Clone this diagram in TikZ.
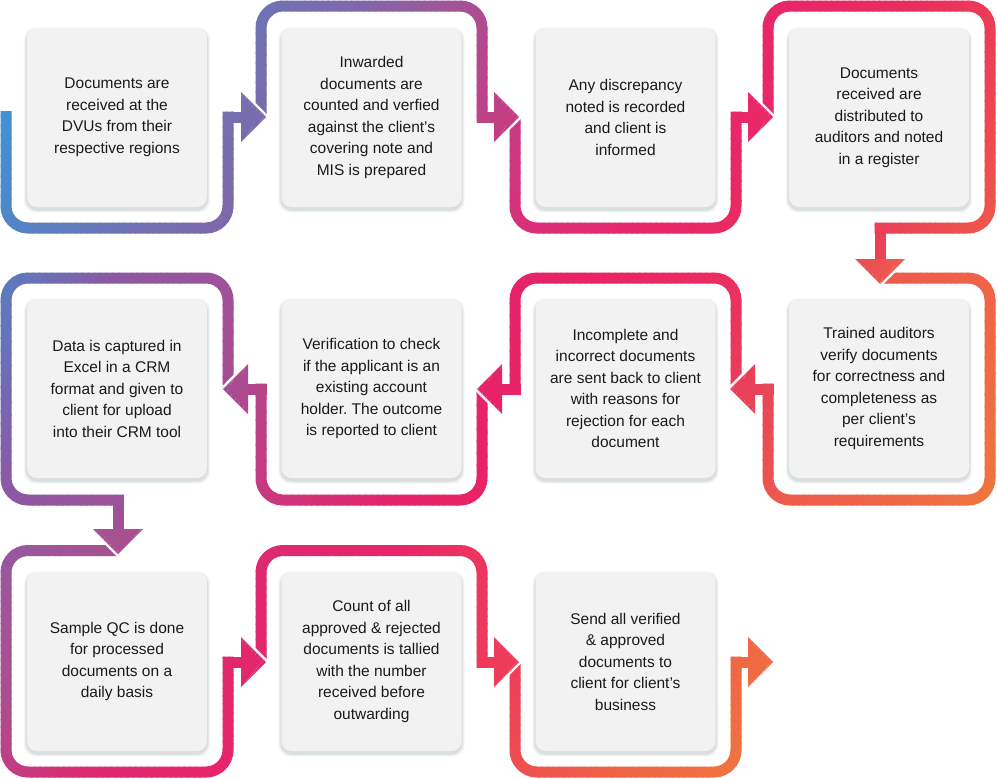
\documentclass[tikz,border=0pt]{standalone}
\usepackage{fontspec}
\setmainfont{Liberation Sans}
\usetikzlibrary{backgrounds,calc}
\frenchspacing

\definecolor{boxgray}{HTML}{F2F2F2}
\definecolor{txt}{HTML}{1A1A1A}
\definecolor{shadowc}{HTML}{4A6262}
% row 1 gradient stops
\definecolor{ra0}{HTML}{3A98D8}
\definecolor{ra1}{HTML}{3F93D5}
\definecolor{ra2}{HTML}{6E72B4}
\definecolor{ra3}{HTML}{8068AA}
\definecolor{ra4}{HTML}{B24A8E}
\definecolor{ra5}{HTML}{D8307A}
\definecolor{ra6}{HTML}{E8266A}
\definecolor{ra7}{HTML}{E92C60}
\definecolor{ra8}{HTML}{EB3C58}
\definecolor{ra9}{HTML}{EF5E46}
% row 2 gradient stops
\definecolor{rb0}{HTML}{537FC5}
\definecolor{rb1}{HTML}{5A7CC0}
\definecolor{rb2}{HTML}{8C58A2}
\definecolor{rb3}{HTML}{9E529A}
\definecolor{rb4}{HTML}{A84C90}
\definecolor{rb5}{HTML}{B84488}
\definecolor{rb6}{HTML}{C8387E}
\definecolor{rb7}{HTML}{E6226A}
\definecolor{rb8}{HTML}{E82465}
\definecolor{rb9}{HTML}{EA3060}
\definecolor{rbk}{HTML}{E84858}
\definecolor{rbl}{HTML}{EE5C4C}
\definecolor{rbm}{HTML}{EE6548}
\definecolor{rbn}{HTML}{F07C3A}
% row 3 gradient stops
\definecolor{rc0}{HTML}{9459A4}
\definecolor{rc1}{HTML}{9858A0}
\definecolor{rc2}{HTML}{A8508F}
\definecolor{rc3}{HTML}{C03E85}
\definecolor{rc4}{HTML}{DC2A70}
\definecolor{rc5}{HTML}{E8246A}
\definecolor{rc6}{HTML}{EC3560}
\definecolor{rc7}{HTML}{EE3C5A}
\definecolor{rc8}{HTML}{EE4E50}
\definecolor{rc9}{HTML}{EF6446}
\definecolor{rca}{HTML}{F07440}
\definecolor{rcb}{HTML}{F17A3A}

\colorlet{gc}{ra0}

\tikzset{
  stepbox/.style={rounded corners=10pt, fill=boxgray, minimum width=180pt,
    minimum height=179pt, inner sep=0pt, align=center, text=txt,
    font=\fontsize{15.5pt}{21.5pt}\selectfont},
  band/.style={draw=gc, line width=11pt, line cap=butt},
  bandrc/.style={band, rounded corners=22pt},
  headedge/.style={draw=white, line width=5pt, line join=round},
}

\newcommand\headR[2]{%
  \draw[headedge] (#1,#2-25) -- (#1+25,#2) -- (#1,#2+25);
  \fill[gc] (#1,#2-25) -- (#1+25,#2) -- (#1,#2+25) -- cycle;}
\newcommand\headL[2]{%
  \draw[headedge] (#1,#2-25) -- (#1-25,#2) -- (#1,#2+25);
  \fill[gc] (#1,#2-25) -- (#1-25,#2) -- (#1,#2+25) -- cycle;}
\newcommand\headD[2]{%
  \draw[headedge] (#1-25,#2) -- (#1,#2+25) -- (#1+25,#2);
  \fill[gc] (#1-25,#2) -- (#1,#2+25) -- (#1+25,#2) -- cycle;}

% a piece is drawn in a strip only if its bounding box meets the strip
\newcommand\piece[5]{%
  \pgfmathtruncatemacro\gok{and(\gsb>=#1+\gk*(#2-\gT)-1, \gsa<=#3+\gk*(#4-\gT)+1)}%
  \ifnum\gok=1 #5\fi}

\newcommand\rowA{%
  \piece{0}{105}{234}{234}{\draw[bandrc] (6,111) -- (6,228) -- (228,228) -- (228,111.5);}%
  \piece{222}{111}{242}{123}{\draw[band] (222.5,117) -- (242,117);}%
  \piece{255}{0}{488}{123}{\draw[bandrc] (261,117) -- (261,6) -- (482,6) -- (482,122.5);}%
  \piece{476}{111}{495}{123}{\draw[band] (476.5,117) -- (495,117);}%
  \piece{509}{111}{742}{234}{\draw[bandrc] (515,117) -- (515,228) -- (736,228) -- (736,111.5);}%
  \piece{730}{111}{749}{123}{\draw[band] (730.5,117) -- (749,117);}%
  \piece{762}{0}{996}{260}{\draw[bandrc] (768,117) -- (768,6) -- (990,6) -- (990,228) -- (874.5,228);
                          \draw[band] (880,222.5) -- (880,260);}%
  \piece{238}{89}{270}{145}{\headR{241}{117}}%
  \piece{491}{89}{523}{145}{\headR{494}{117}}%
  \piece{745}{89}{777}{145}{\headR{748}{117}}%
}
\newcommand\rowB{%
  \piece{762}{272}{996}{506}{\draw[bandrc] (880,278) -- (990,278) -- (990,500) -- (768,500) -- (768,383.5);}%
  \piece{753}{383}{774}{395}{\draw[band] (773.5,389) -- (754,389);}%
  \piece{509}{272}{742}{395}{\draw[bandrc] (736,389) -- (736,278) -- (515,278) -- (515,394.5);}%
  \piece{500}{383}{521}{395}{\draw[band] (520.5,389) -- (501,389);}%
  \piece{255}{383}{488}{506}{\draw[bandrc] (482,389) -- (482,500) -- (261,500) -- (261,383.5);}%
  \piece{246}{383}{267}{395}{\draw[band] (266.5,389) -- (247,389);}%
  \piece{0}{272}{234}{530}{\draw[bandrc] (228,389) -- (228,278) -- (6,278) -- (6,500) -- (123.5,500);
                          \draw[band] (118,494.5) -- (118,530);}%
  \piece{852}{256}{908}{287}{\headD{880}{259}}%
  \piece{727}{361}{758}{417}{\headL{755}{389}}%
  \piece{474}{361}{505}{417}{\headL{502}{389}}%
  \piece{220}{361}{251}{417}{\headL{248}{389}}%
}
\newcommand\rowC{%
  \piece{0}{545}{234}{778}{\draw[bandrc] (118,550.5) -- (6,550.5) -- (6,772) -- (228,772) -- (228,656.5);}%
  \piece{222}{656}{242}{668}{\draw[band] (222.5,662) -- (242,662);}%
  \piece{255}{545}{488}{668}{\draw[bandrc] (261,662) -- (261,550.5) -- (482,550.5) -- (482,667.5);}%
  \piece{476}{656}{495}{668}{\draw[band] (476.5,662) -- (495,662);}%
  \piece{509}{656}{742}{778}{\draw[bandrc] (515,662) -- (515,772) -- (736,772) -- (736,656.5);}%
  \piece{730}{656}{749}{668}{\draw[band] (730.5,662) -- (749,662);}%
  \piece{90}{526}{146}{557}{\headD{118}{529}}%
  \piece{238}{634}{270}{690}{\headR{241}{662}}%
  \piece{491}{634}{523}{690}{\headR{494}{662}}%
  \piece{745}{634}{777}{690}{\headR{748}{662}}%
}

% gradient: strips of constant s = x + k*(y - T)
\newcommand\gradpart[4]{%
  \pgfmathtruncatemacro\gn{max(1,round((#2-#1)/6))}%
  \foreach \j in {1,...,\gn}{%
    \pgfmathsetmacro\gsa{#1+(#2-#1)*(\j-1)/\gn}%
    \pgfmathsetmacro\gsb{#1+(#2-#1)*\j/\gn+0.8}%
    \pgfmathsetmacro\gpct{100*(\j-0.5)/\gn}%
    \pgfmathsetmacro\gxa{\gsa+30*\gk}%
    \pgfmathsetmacro\gxb{\gsb+30*\gk}%
    \pgfmathsetmacro\gxc{\gsb-260*\gk}%
    \pgfmathsetmacro\gxd{\gsa-260*\gk}%
    \pgfmathsetmacro\gya{\gT-30}%
    \pgfmathsetmacro\gyb{\gT+260}%
    \colorlet{gc}{#4!\gpct!#3}%
    \begin{scope}
      \clip (\gxa,\gya) -- (\gxb,\gya) -- (\gxc,\gyb) -- (\gxd,\gyb) -- cycle;
      \rowdraw
    \end{scope}%
  }%
}

\begin{document}
\begin{tikzpicture}[x=1pt,y=-1pt]
\useasboundingbox (0,0) rectangle (997,779);
\begin{pgfonlayer}{background}
  \fill[white] (0,0) rectangle (997,779);
\end{pgfonlayer}

% ---- row 1 band ----
\def\gk{0.6}\def\gT{6}\let\rowdraw\rowA
\gradpart{-40}{60}{ra0}{ra1}
\gradpart{60}{260}{ra1}{ra2}
\gradpart{260}{360}{ra2}{ra3}
\gradpart{360}{500}{ra3}{ra4}
\gradpart{500}{650}{ra4}{ra5}
\gradpart{650}{780}{ra5}{ra6}
\gradpart{780}{900}{ra6}{ra7}
\gradpart{900}{1000}{ra7}{ra8}
\gradpart{1000}{1160}{ra8}{ra9}

% ---- row 2 band ----
\def\gk{0.5}\def\gT{278}\let\rowdraw\rowB
\gradpart{-40}{6}{rb0}{rb1}
\gradpart{6}{116}{rb1}{rb2}
\gradpart{116}{230}{rb2}{rb3}
\gradpart{230}{290}{rb3}{rb4}
\gradpart{290}{320}{rb4}{rb5}
\gradpart{320}{370}{rb5}{rb6}
\gradpart{370}{510}{rb6}{rb7}
\gradpart{510}{600}{rb7}{rb8}
\gradpart{600}{740}{rb8}{rb9}
\gradpart{740}{830}{rb9}{rbk}
\gradpart{830}{900}{rbk}{rbl}
\gradpart{900}{1000}{rbl}{rbm}
\gradpart{1000}{1140}{rbm}{rbn}

% ---- row 3 band ----
\def\gk{0.8}\def\gT{550}\let\rowdraw\rowC
\gradpart{-40}{6}{rc0}{rc1}
\gradpart{6}{118}{rc1}{rc2}
\gradpart{118}{184}{rc2}{rc3}
\gradpart{184}{260}{rc3}{rc4}
\gradpart{260}{400}{rc4}{rc5}
\gradpart{400}{480}{rc5}{rc6}
\gradpart{480}{600}{rc6}{rc7}
\gradpart{600}{690}{rc7}{rc8}
\gradpart{690}{800}{rc8}{rc9}
\gradpart{800}{920}{rc9}{rca}
\gradpart{920}{1000}{rca}{rcb}

% ---- boxes ----
\node[stepbox] (b1) at (117,117.5) {Documents are\\received at the\\DVUs from their\\respective regions};
\node[stepbox] (b2) at (371.5,117.5) {Inwarded\\documents are\\counted and verfied\\against the client’s\\covering note and\\MIS is prepared};
\node[stepbox] (b3) at (625.5,117.5) {Any discrepancy\\noted is recorded\\and client is\\informed};
\node[stepbox] (b4) at (879,117.5) {Documents\\received are\\distributed to\\auditors and noted\\in a register};
\node[stepbox] (b5) at (879,388.5) {Trained auditors\\verify documents\\for correctness and\\completeness as\\per client’s\\requirements};
\node[stepbox] (b6) at (625.5,388.5) {Incomplete and\\incorrect documents\\are sent back to client\\with reasons for\\rejection for each\\document};
\node[stepbox] (b7) at (371.5,388.5) {Verification to check\\if the applicant is an\\existing account\\holder. The outcome\\is reported to client};
\node[stepbox] (b8) at (117,388.5) {Data is captured in\\Excel in a CRM\\format and given to\\client for upload\\into their CRM tool};
\node[stepbox] (b9) at (117,661.5) {Sample QC is done\\for processed\\documents on a\\daily basis};
\node[stepbox] (b10) at (371.5,661.5) {Count of all\\approved \& rejected\\documents is tallied\\with the number\\received before\\outwarding};
\node[stepbox] (b11) at (625.5,661.5) {Send all verified\\\& approved\\documents to\\client for client’s\\business};

% ---- soft shadows ----
\begin{pgfonlayer}{background}
\foreach \i in {1,...,11}{
  \foreach \e/\o in {3/0.05,2/0.07,1/0.09}{
    \fill[shadowc, opacity=\o, rounded corners=12pt]
      ($(b\i.south west)+(-\e,2.5+\e)$) rectangle ($(b\i.north east)+(\e,2.5-\e)$);
  }
}
\end{pgfonlayer}
\end{tikzpicture}
\end{document}
